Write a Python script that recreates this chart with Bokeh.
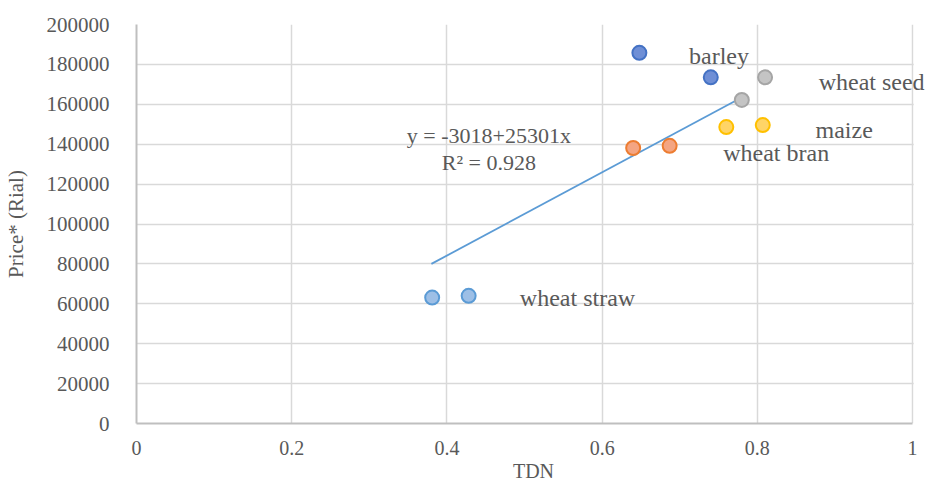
from bokeh.plotting import figure
from bokeh.models import Range1d, FixedTicker, NumeralTickFormatter, Label, BoxAnnotation
from bokeh.embed import file_html
from bokeh.resources import INLINE

# ---- data ----
categories = ["barley", "wheat seed", "maize", "wheat bran", "wheat straw"]
tdn_barley = [0.648, 0.740]
price_barley = [185800, 173500]
tdn_wheat_seed = [0.810, 0.780]
price_wheat_seed = [173500, 162200]
tdn_maize = [0.760, 0.807]
price_maize = [148600, 149600]
tdn_wheat_bran = [0.640, 0.687]
price_wheat_bran = [138100, 139200]
tdn_wheat_straw = [0.381, 0.428]
price_wheat_straw = [63100, 64000]

trend_x = [0.380, 0.778]
trend_y = [80000, 163000]

label_x = [0.712, 0.879, 0.875, 0.756, 0.494]
label_y = [184000, 171000, 147000, 135800, 62700]

equation_lines = ["y = -3018+25301x", "R\u00b2 = 0.928"]
equation_x = [0.454, 0.454]
equation_y = [144400, 130800]

x_ticks = [0, 0.2, 0.4, 0.6, 0.8, 1]
y_ticks = [0, 20000, 40000, 60000, 80000, 100000, 120000, 140000, 160000, 180000, 200000]

# styles
fills = ["#6f8fd6", "#c4c4c4", "#ffd466", "#f4a582", "#9dbfe6"]
edges = ["#4472c4", "#a5a5a5", "#ffc000", "#ed7d31", "#5b9bd5"]
FONT = "Liberation Serif"
TXT = "#595959"

W = 930
LEFT = 134
PX_PER_UNIT = 778  # frame pixels per TDN unit, so x=1 sits at 912
x_end = (W - LEFT) / PX_PER_UNIT

p = figure(width=W, height=484, output_backend="svg", toolbar_location=None,
           x_range=Range1d(0, x_end), y_range=Range1d(0, 200000),
           min_border_left=LEFT, min_border_right=0, min_border_top=24, min_border_bottom=61)
p.outline_line_color = None
p.background_fill_color = "white"

for ax in (p.xaxis[0], p.yaxis[0]):
    ax.major_tick_line_color = None
    ax.minor_tick_line_color = None
    ax.axis_line_color = "#bfbfbf"
    ax.axis_line_width = 2
    ax.major_label_text_font = FONT
    ax.major_label_text_font_size = "21px"
    ax.major_label_text_color = TXT
    ax.axis_label_text_font = FONT
    ax.axis_label_text_font_size = "21px"
    ax.axis_label_text_font_style = "normal"
    ax.axis_label_text_color = TXT

p.xaxis[0].major_label_text_font_size = "20px"
p.xaxis[0].axis_label_text_font_size = "20px"
p.xaxis[0].bounds = (0, 1)

p.xaxis[0].ticker = FixedTicker(ticks=x_ticks)
p.yaxis[0].ticker = FixedTicker(ticks=y_ticks)
p.xaxis[0].formatter = NumeralTickFormatter(format="0.[0]")
p.yaxis[0].formatter = NumeralTickFormatter(format="0")
p.xaxis[0].axis_label = "TDN"
p.yaxis[0].axis_label = "Price* (Rial)"
p.xaxis[0].major_label_standoff = 11
p.yaxis[0].major_label_standoff = 21
p.xaxis[0].axis_label_standoff = 2
p.yaxis[0].axis_label_standoff = 16

p.xgrid.grid_line_color = "#d9d9d9"
p.ygrid.grid_line_color = "#d9d9d9"
p.xgrid.grid_line_width = 1.5
p.ygrid.grid_line_width = 1.5

# blank out the strip right of x = 1 (only the outside label lives there)
p.add_layout(BoxAnnotation(left=1.0015, fill_color="white", fill_alpha=1.0,
                           line_color=None, level="underlay"))

# trendline
p.line(trend_x, trend_y, line_color="#5b9bd5", line_width=1.8)

series = [(tdn_barley, price_barley), (tdn_wheat_seed, price_wheat_seed),
          (tdn_maize, price_maize), (tdn_wheat_bran, price_wheat_bran),
          (tdn_wheat_straw, price_wheat_straw)]
for (xs, ys), fc, ec in zip(series, fills, edges):
    p.scatter(xs, ys, size=14, fill_color=fc, line_color=ec, line_width=2)

for t, lx, ly in zip(categories, label_x, label_y):
    p.add_layout(Label(x=lx, y=ly, text=t, text_font=FONT, text_font_size="24px",
                       text_color=TXT, text_baseline="middle", text_align="left"))

for t, lx, ly in zip(equation_lines, equation_x, equation_y):
    p.add_layout(Label(x=lx, y=ly, text=t, text_font=FONT, text_font_size="22px",
                       text_color=TXT, text_baseline="middle", text_align="center"))

open("out.html", "w").write(file_html(p, INLINE))
